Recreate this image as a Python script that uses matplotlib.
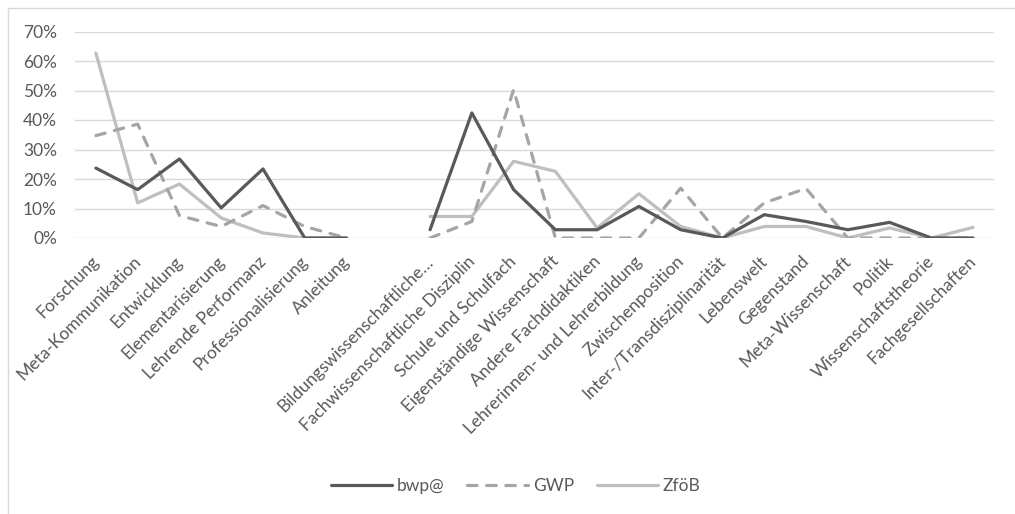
import matplotlib
matplotlib.use("Agg")
import matplotlib.pyplot as plt
import matplotlib.transforms as mtransforms
import numpy as np
from matplotlib.lines import Line2D

categories = [
    "Forschung", "Meta-Kommunikation", "Entwicklung", "Elementarisierung",
    "Lehrende Performanz", "Professionalisierung", "Anleitung", "",
    "Bildungswissenschaftliche…", "Fachwissenschaftliche Disziplin",
    "Schule und Schulfach", "Eigenständige Wissenschaft", "Andere Fachdidaktiken",
    "Lehrerinnen- und Lehrerbildung", "Zwischenposition",
    "Inter-/Transdisziplinarität", "Lebenswelt", "Gegenstand",
    "Meta-Wissenschaft", "Politik", "Wissenschaftstheorie", "Fachgesellschaften",
]
nan = np.nan
bwp = [23.7, 16.4, 26.8, 10.2, 23.4, 0, 0, nan,
       2.8, 42.4, 16.4, 2.8, 2.8, 10.7, 2.8, 0, 7.9, 5.6, 2.8, 5.3, 0, 0]
gwp = [34.7, 38.6, 7.6, 3.9, 11.0, 3.9, 0, nan,
       0, 5.6, 50.3, 0, 0, 0, 16.9, 0, 11.9, 16.8, 0, 0, 0, 0]
zfob = [62.7, 11.9, 18.3, 6.8, 1.7, 0, 0, nan,
        7.3, 7.3, 26.0, 22.6, 3.4, 15.0, 3.9, 0, 3.9, 3.9, 0, 3.4, 0, 3.6]
yticks = [0, 10, 20, 30, 40, 50, 60, 70]

TEXT = "#595959"
FS = 12.5
plt.rcParams["font.family"] = ["Lato", "DejaVu Sans"]

W, H = 1015, 514
fig = plt.figure(figsize=(W / 100, H / 100), dpi=100)
# chart frame: only left and top edges are visible in the crop
fig.add_artist(Line2D([7.5 / W, 7.5 / W, 1], [0, 1 - 7.5 / H, 1 - 7.5 / H],
                      transform=fig.transFigure, color="#D9D9D9", lw=1.0))
ax = fig.add_axes([75 / W, 276 / H, 919 / W, 206.5 / H])

x = np.arange(len(categories))
ax.plot(x, zfob, color="#BFBFBF", lw=2.3, solid_capstyle="round", label="ZföB", zorder=3)
ax.plot(x, gwp, color="#A5A5A5", lw=2.3, ls=(0, (3.0, 3.0)), dash_capstyle="round",
        label="GWP", zorder=4)
ax.plot(x, bwp, color="#595959", lw=2.3, solid_capstyle="round", label="bwp@", zorder=5)

ax.set_xlim(-0.5, len(categories) - 0.5)
ax.set_ylim(0, 70)
ax.set_yticks(yticks)
ax.set_yticklabels([f"{v}%" for v in yticks], color=TEXT, fontsize=FS)
ax.grid(axis="y", color="#D9D9D9", lw=1.0, zorder=0)
for s in ax.spines.values():
    s.set_visible(False)
ax.tick_params(length=0, pad=13)
ax.tick_params(axis="x", pad=11)
ax.set_xticks(x)
ax.set_xticklabels(categories, rotation=45, ha="right", va="top",
                   rotation_mode="anchor", color=TEXT, fontsize=FS)
shift = mtransforms.ScaledTranslation(-5 / 100, 0, fig.dpi_scale_trans)
for lbl in ax.get_xticklabels():
    lbl.set_transform(lbl.get_transform() + shift)

handles, labels = ax.get_legend_handles_labels()
order = [2, 1, 0]
fig.legend([handles[i] for i in order], [labels[i] for i in order],
           loc="center", bbox_to_anchor=(516 / W, 1 - 486 / H), ncol=3, frameon=False,
           fontsize=FS, labelcolor=TEXT, handlelength=3.5, columnspacing=1.3,
           handletextpad=0.3)

fig.savefig("out.png", dpi=100)
